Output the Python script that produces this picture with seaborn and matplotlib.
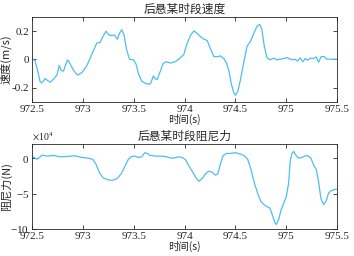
import numpy as np
import pandas as pd
import matplotlib
matplotlib.use("Agg")
import matplotlib.pyplot as plt
from matplotlib.ticker import ScalarFormatter
import seaborn as sns

# velocity trace (s, m/s)
vel_t = [972.5, 972.53, 972.555, 972.58, 972.598, 972.63, 972.647, 972.68, 972.71, 972.745,
         972.768, 972.788, 972.81, 972.833, 972.85, 972.876, 972.908, 972.948, 972.99, 973.04,
         973.088, 973.137, 973.17, 973.196, 973.229, 973.252, 973.278, 973.31, 973.34, 973.36,
         973.382, 973.405, 973.43, 973.458, 973.497, 973.523, 973.546, 973.578, 973.618, 973.65,
         973.667, 973.693, 973.71, 973.732, 973.758, 973.79, 973.82, 973.86, 973.905, 973.944,
         973.993, 974.026, 974.06, 974.092, 974.124, 974.157, 974.19, 974.222, 974.255, 974.288,
         974.32, 974.353, 974.386, 974.412, 974.435, 974.458, 974.484, 974.5, 974.523, 974.549,
         974.582, 974.614, 974.647, 974.68, 974.712, 974.738, 974.758, 974.784, 974.81, 974.837,
         974.876, 974.909, 974.941, 974.974, 975.007, 975.039, 975.065, 975.088, 975.111, 975.137,
         975.163, 975.186, 975.209, 975.235, 975.268, 975.294, 975.317, 975.343, 975.373, 975.399,
         975.431, 975.464, 975.497]
vel_v = [0.007, -0.01, -0.077, -0.157, -0.164, -0.134, -0.145, -0.161, -0.139, -0.11,
         -0.043, -0.077, -0.082, -0.032, -0.002, -0.032, -0.077, -0.11, -0.093, -0.043,
         0.036, 0.116, 0.12, 0.161, 0.2, 0.177, 0.168, 0.173, 0.143, 0.184,
         0.211, 0.173, 0.07, 0.002, -0.002, -0.032, -0.1, -0.152, -0.17, -0.175,
         -0.168, -0.116, -0.134, -0.141, -0.089, -0.027, -0.016, -0.025, -0.016, 0.002,
         0.036, 0.116, 0.173, 0.202, 0.184, 0.161, 0.143, 0.134, 0.075, 0.02,
         0.02, 0.025, 0.007, -0.025, -0.077, -0.168, -0.236, -0.252, -0.225, -0.145,
         -0.02, 0.093, 0.127, 0.184, 0.234, 0.248, 0.218, 0.093, 0.014, -0.002,
         0.009, -0.002, 0.002, 0.007, 0.014, 0.002, -0.002, 0.002, -0.011, 0.011,
         -0.016, 0.007, -0.005, 0.009, 0.007, 0.018, -0.02, 0.02, 0.02, 0.002,
         0.002, 0.002, 0.002]

# damping force trace (s, x1e4 N)
force_t = [972.5, 972.52, 972.55, 972.575, 972.598, 972.647, 972.712, 972.778, 972.843, 972.925,
           972.99, 973.056, 973.098, 973.13, 973.163, 973.2, 973.24, 973.284, 973.317, 973.35,
           973.382, 973.415, 973.448, 973.48, 973.513, 973.546, 973.578, 973.61, 973.634, 973.66,
           973.71, 973.758, 973.807, 973.856, 973.89, 973.944, 973.977, 974.01, 974.042, 974.075,
           974.108, 974.14, 974.173, 974.206, 974.238, 974.271, 974.304, 974.327, 974.353, 974.379,
           974.412, 974.451, 974.5, 974.549, 974.588, 974.62, 974.653, 974.686, 974.718, 974.751,
           974.794, 974.837, 974.859, 974.886, 974.902, 974.925, 974.948, 974.974, 975.0, 975.023,
           975.039, 975.056, 975.072, 975.098, 975.121, 975.154, 975.186, 975.219, 975.242, 975.268,
           975.294, 975.317, 975.34, 975.366, 975.392, 975.415, 975.438, 975.464, 975.497]
force_v = [0.19, 0.1, -0.14, 0.1, 0.43, 0.29, 0.38, 0.19, 0.24, 0.34,
           0.1, 0.0, -0.19, -0.87, -2.07, -2.79, -3.03, -3.13, -3.03, -2.69,
           -2.07, -1.1, -0.14, 0.24, 0.29, 0.1, 0.19, 0.77, 0.67, 0.38,
           0.29, 0.29, 0.24, 0.05, 0.0, 0.19, 0.1, -0.24, -1.1, -1.83,
           -2.69, -3.27, -2.88, -2.21, -1.83, -1.97, -2.4, -2.21, -0.77, 0.34,
           0.67, 0.67, 0.77, 0.58, 0.34, -0.14, -1.59, -3.51, -4.95, -6.15,
           -6.73, -7.02, -7.84, -9.04, -9.38, -8.65, -7.36, -6.39, -5.43, -3.51,
           -0.38, 0.67, 0.96, 0.34, 0.0, 0.1, 0.34, 0.29, 0.0, -0.96,
           -1.59, -3.27, -5.67, -6.54, -6.06, -4.95, -4.62, -4.47, -4.38]

x_ticks = [972.5, 973, 973.5, 974, 974.5, 975, 975.5]
x_ticklabels = ["972.5", "973", "973.5", "974", "974.5", "975", "975.5"]

sns.set_style("ticks")
plt.rcParams["font.family"] = ["Liberation Serif", "Noto Sans CJK SC"]
plt.rcParams["mathtext.fontset"] = "stix"

line_color = "#4DBEEE"
cn = ["Noto Sans CJK SC", "Liberation Serif"]

vel_df = pd.DataFrame({"t": vel_t, "v": vel_v})
force_df = pd.DataFrame({"t": force_t, "f": np.array(force_v) * 1e4})

fig = plt.figure(figsize=(3.54, 2.56), dpi=100)
ax1 = fig.add_axes([0.0904, 0.6016, 0.862, 0.332])
ax2 = fig.add_axes([0.0904, 0.1055, 0.862, 0.332])

sns.lineplot(data=vel_df, x="t", y="v", ax=ax1, color=line_color, linewidth=0.9)
sns.lineplot(data=force_df, x="t", y="f", ax=ax2, color=line_color, linewidth=0.9)

ax1.set_ylim(-0.3, 0.3)
ax1.set_yticks([-0.2, 0, 0.2])
ax1.set_yticklabels(["-0.2", "0", "0.2"])
ax1.set_title("后悬某时段速度", fontsize=8.5, family=cn, pad=3)
ax1.set_ylabel("速度(m/s)", fontsize=8, family=cn)

ax2.set_ylim(-1e5, 2e4)
ax2.set_yticks([-1e5, -5e4, 0])
fmt = ScalarFormatter(useMathText=True)
fmt.set_powerlimits((4, 4))
ax2.yaxis.set_major_formatter(fmt)
ax2.yaxis.get_offset_text().set_fontsize(7)
ax2.set_title("后悬某时段阻尼力", fontsize=8.5, family=cn, pad=3)
ax2.set_ylabel("阻尼力(N)", fontsize=8, family=cn)

for ax in (ax1, ax2):
    ax.set_xlim(972.5, 975.5)
    ax.set_xticks(x_ticks)
    ax.set_xticklabels(x_ticklabels)
    ax.set_xlabel("时间(s)", fontsize=7.5, family=cn, labelpad=0)
    ax.yaxis.set_label_coords(-0.066, 0.5)
    ax.tick_params(direction="in", top=True, right=True, labelsize=8,
                   length=3, width=0.6, pad=2, colors="#262626")
    for s in ax.spines.values():
        s.set_linewidth(0.6)
        s.set_color("#262626")

fig.savefig("out.png", dpi=100)
